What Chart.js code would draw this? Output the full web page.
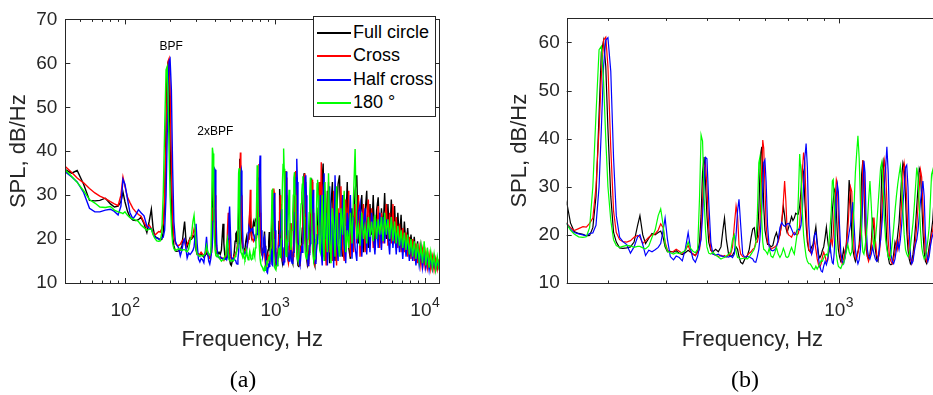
<!DOCTYPE html>
<html><head><meta charset="utf-8">
<script src="https://cdn.jsdelivr.net/npm/chart.js@4.4.1/dist/chart.umd.min.js"></script>
<style>
html,body{margin:0;padding:0;background:#fff;overflow:hidden;}
#wrap{position:relative;width:933px;height:395px;overflow:hidden;background:#fff;}
.pane{position:absolute;top:0;}
.cap{position:absolute;top:366px;font-family:"Liberation Serif","DejaVu Serif",serif;font-size:24px;line-height:26px;color:#000;transform:translateX(-50%);white-space:nowrap;}
#legend{position:absolute;left:313px;top:16px;width:121px;height:99px;border:1px solid #262626;background:#fff;font-family:"Liberation Sans",Arial,sans-serif;font-size:18px;color:#000;}
.li{position:absolute;left:0;width:121px;height:23px;line-height:23px;}
.sw{position:absolute;left:3px;top:11px;width:34px;height:2px;}
.tx{position:absolute;left:39px;top:0;white-space:nowrap;}
</style></head>
<body>
<div id="wrap">
  <div class="pane" style="left:0;width:470px;height:395px"><canvas id="chartA" width="470" height="395"></canvas></div>
  <div class="pane" style="left:470px;width:480px;height:395px"><canvas id="chartB" width="480" height="395"></canvas></div>
  <div id="legend"></div>
  <div class="cap" style="left:243px">(a)</div>
  <div class="cap" style="left:745px">(b)</div>
</div>
<script>
// ---------------- data ----------------
const freqHz = [
  40,44,48,53,58,63,68,74,80,85,
  90,94,97,100,104,108,113,118,123,128,
  134,140,145,
  150,154,158,163,168,172,176,180,184,188,
  191,194,197,200,204,208,212,217,222,228,
  234,240,246,250,255,260,266,272,278,284,
  289,294,298,303,309,316,322,329,336,343,
  350,356,362,368,374,379,383,387,391,395,
  399,404,410,416,424,432,440,446,451,457,
  464,471,477,483,489,494,499,505,512,520,
  528,536,543,549,555,561,567,573,577,581,
  585,589,593,598,603,609,616,624,632,640,
  648,656,664,672,680,686,692,698,705,712,
  720,727,734,741,748,755,762,769,776,783,
  790,797,804,812,820,828,836,845,853,861,
  869,877,885,893,901,910,918,926,934,942,
  950,957,963,970,977,984,991,998,1006,1015,
  1025,1035,1045,1055,1066,1076,1086,1096,1104,1114,
  1124,1134,1144,1154,1164,1174,1184,1193,1202,1212,
  1222,1232,1244,1256,1268,1280,1292,1304,1316,1328,
  1340,1352,1364,1376,1388,1400,1413,1426,1440,1454,
  1468,1482,1496,1510,1524,1538,1552,1566,1580,1594,
  1608,1622,1636,1650,1665,1680,1695,1710,1725,1740,
  1755,1770,1785,1800,1816,1832,1848,1864,1880,1896,
  1912,1928,1944,1960,1976,1992,
  2010,2040,2070,2100,2130,2160,2200,2240,2280,2320,
  2370,2420,2470,2520,2580,2640,2700,2760,2830,2900,
  2970,3040,3110,3190,3270,3350,3430,3520,3610,3700,
  3800,3900,4000,4100,4200,4310,4420,4530,4650,4770,
  4890,5010,5140,5270,5400,5540,5680,5830,5980,6130,
  6290,6450,6610,6780,6950,7130,7310,7500,7690,7890,
  8090,8300,8510,8730,8950,9180,9420,9660,9910,10160,
  10420,10690,10960,11240,11530,11820,12120,12430,12750
];
const splFullCircle = [
  35.8,35.0,35.6,32.5,28.8,28.7,28.8,29.3,28.0,27.3,
  27.5,28.5,30.7,28.5,26.3,25.0,24.3,24.2,24.4,25.0,
  23.5,21.5,24.0,
  26.8,22.5,20.7,20.3,20.1,19.8,19.9,21.5,28.0,45.0,
  58.0,60.4,55.0,42.0,28.0,20.5,18.5,17.3,17.2,17.3,
  17.5,18.5,22.0,24.0,20.0,18.2,19.3,20.3,20.0,20.5,
  20.8,19.5,17.5,16.5,16.6,16.4,16.7,16.2,15.9,16.3,
  16.8,16.4,16.0,15.7,16.6,18.5,24.0,33.0,36.2,31.0,
  24.0,18.5,16.8,16.5,17.0,16.5,17.5,21.0,23.5,19.0,
  16.0,15.5,15.8,16.5,17.5,17.0,15.5,14.3,14.0,15.0,
  15.5,17.0,19.5,21.2,21.5,19.0,19.5,25.0,32.0,37.0,
  38.3,33.0,26.0,21.0,19.5,18.0,18.0,17.5,17.8,19.5,
  20.5,19.0,20.0,22.5,25.9,24.0,21.5,20.5,21.5,22.5,
  23.8,23.0,23.5,24.5,24.3,24.3,26.0,29.0,34.0,33.0,
  27.0,22.0,18.5,16.8,16.5,17.5,18.0,20.0,21.7,18.5,
  16.0,15.2,15.8,16.8,17.5,19.5,21.6,19.0,17.0,16.5,
  20.0,25.0,27.1,29.5,29.0,25.0,20.0,17.0,15.5,14.5,
  15.0,17.0,15.5,18.0,24.0,31.4,28.0,20.0,17.0,15.5,
  14.5,15.5,16.5,18.0,22.0,32.6,35.5,30.0,22.0,17.0,
  15.5,15.0,16.0,18.5,23.6,21.0,17.0,15.0,14.5,17.0,
  24.0,33.5,35.2,31.0,24.0,18.0,15.5,14.0,13.8,14.0,
  16.0,18.5,17.5,20.0,22.5,27.0,32.0,35.0,34.0,28.0,
  21.0,17.0,15.0,14.0,14.5,16.0,18.5,22.0,26.0,30.0,
  33.8,33.0,27.0,21.0,16.5,14.5,14.0,15.5,17.5,19.0,
  21.0,23.0,27.0,31.0,33.0,30.0,
  18,26,34,37.2,24,15,19,31,22,14.5,
  28,33,18,15,25,32.5,34.5,20,16,30,
  23,33,18,15.5,27,22,31,34.5,19,25,
  30,17,26,31,18,28,21,30,17.5,26.5,
  29.5,19,27,22,30.5,20,28,19.5,29,21,
  27.5,18,26,20,25.5,17.5,24,18,22.5,16.5,
  21,17,20.5,15.5,19.5,15,18.5,14.5,17.5,14,
  17,14,16.5,13.5,16,13.5,15.5,14,15
];
const splCross = [
  36.5,35.2,33.9,32.8,31.5,30.5,29.8,29.2,28.5,28.0,
  27.6,30.0,34.1,32.0,29.5,28.3,27.0,26.2,25.6,25.2,
  23.8,22.6,23.2,
  22.4,21.5,20.9,21.3,21.7,21.6,22.4,23.5,30.0,42.0,
  53.0,60.5,61.1,55.0,38.0,25.0,20.5,19.0,18.6,18.5,
  18.8,19.5,19.9,19.5,18.2,18.8,19.5,20.0,20.2,21.0,
  22.3,21.5,18.5,16.8,16.4,16.6,17.0,16.6,16.2,16.8,
  17.8,16.5,16.0,15.7,16.4,17.0,20.0,27.0,34.0,35.0,
  30.0,21.5,17.0,16.0,15.8,15.5,15.8,15.5,15.7,15.4,
  15.8,16.0,17.5,22.0,26.0,24.0,18.0,16.0,15.5,15.3,
  15.7,16.2,16.5,17.0,17.2,18.5,18.5,20.0,22.0,27.0,
  34.0,39.7,38.0,30.0,22.0,18.5,17.8,17.0,17.3,17.5,
  17.8,18.5,20.0,22.5,27.0,31.2,27.0,21.0,20.0,19.8,
  19.5,20.2,20.5,20.2,20.0,20.3,22.0,27.0,33.0,37.1,
  35.0,26.0,20.0,17.0,16.5,16.0,17.5,18.8,17.0,15.0,
  13.8,13.3,14.0,15.5,16.4,15.5,14.5,14.7,16.5,18.5,
  19.0,18.0,20.0,25.0,28.0,31.5,30.6,24.0,18.0,15.0,
  14.0,15.0,16.5,18.0,21.0,26.0,30.0,29.0,22.0,17.0,
  15.0,15.0,16.2,17.5,19.0,24.0,35.5,34.0,26.0,18.5,
  15.5,14.5,15.5,17.0,21.5,23.6,19.0,16.0,15.0,16.0,
  19.0,25.0,30.0,35.5,34.0,27.0,19.0,15.5,14.5,14.0,
  15.0,16.5,18.5,17.0,19.0,22.0,27.0,32.0,34.9,33.0,
  27.0,20.0,16.5,15.0,14.0,15.0,17.0,19.0,22.0,26.0,
  30.0,33.5,32.0,26.0,20.0,16.0,14.5,15.0,16.5,18.0,
  20.0,21.0,23.0,27.0,31.0,33.0,
  22,37.5,25,16,30,20,14,24,33,17,
  21,15,31,22,14,27,20,32,18,15,
  29,20,31,16,24,17,28,19,30,16,
  22,28,17,24,29,19,27,18,25,20,
  27.5,18,26,19,24,28,18.5,26,19,28,
  19,25,18,23.5,17,22.5,17,21.5,16,20.5,
  15.5,20,15,19,14.5,18,14,17.5,14,17,
  13.5,16.5,13.2,16,13,15.5,13,15,14
];
const splHalfCross = [
  35.3,34.2,33.0,30.6,27.0,26.2,26.2,26.6,26.8,26.3,
  25.5,27.5,33.6,32.5,29.1,26.0,24.6,25.5,26.7,26.0,
  25.3,23.0,22.5,
  22.3,21.2,20.5,20.2,20.0,19.8,20.3,20.4,22.0,30.0,
  42.0,55.0,60.5,61.0,54.0,36.0,24.0,19.5,18.6,18.0,
  16.2,17.5,19.6,20.0,18.0,15.7,16.8,16.5,16.9,17.4,
  18.2,21.0,23.5,19.0,15.5,14.8,15.6,15.3,14.6,17.0,
  20.5,17.0,15.0,14.3,15.6,17.5,19.0,24.0,30.0,36.1,
  35.8,27.0,18.5,16.0,15.8,16.0,15.6,15.6,15.4,15.5,
  15.4,15.6,15.3,16.0,20.0,25.0,27.4,22.0,16.0,15.3,
  15.6,15.4,15.2,15.0,14.4,14.3,15.5,17.0,19.0,22.0,
  25.0,30.0,35.0,35.6,31.0,22.0,17.5,16.8,16.7,16.9,
  17.5,19.0,21.5,22.6,22.0,21.8,22.0,22.3,22.4,22.0,
  21.2,20.5,20.0,20.2,21.0,21.2,21.0,22.0,25.0,30.0,
  36.0,39.0,34.0,22.0,17.5,16.0,17.0,20.0,20.5,18.0,
  15.0,13.5,12.5,12.3,13.5,14.5,13.8,14.8,16.5,17.8,
  15.5,14.2,14.0,16.5,22.0,28.0,30.5,29.0,22.0,16.5,
  14.5,14.0,15.5,17.0,18.5,20.5,22.0,25.0,26.8,22.0,
  17.0,15.0,14.0,14.8,17.0,21.0,28.0,35.4,33.0,22.0,
  17.0,15.5,15.0,16.0,17.5,16.0,15.0,14.5,15.0,17.0,
  19.0,22.0,26.0,30.0,34.0,38.3,33.0,22.0,16.0,14.5,
  14.0,15.0,17.0,18.5,17.0,19.0,22.0,26.0,30.0,34.0,
  34.5,30.0,21.0,16.0,14.0,14.5,16.5,18.0,19.0,21.0,
  24.0,27.0,29.0,31.2,28.0,20.0,16.0,14.5,15.5,17.5,
  19.0,20.0,21.0,22.0,24.0,27.0,
  30,17,14,28,35,20,26,14,20,32,
  17,24,13.5,34.5,20,15,26,16,30,19,
  14.5,26,21,30,15.5,25,18,15,26,28,
  16,23,27,16.5,24,17,26,21,16.5,24,
  18,26,17.5,25,19,24.5,21,16.5,25,18,
  23,16.5,22.5,17,21.5,15.5,21,16,20,15,
  19.5,15,19,14,18,14,17.5,13.5,17,13.5,
  16.5,13,16,13.2,15.5,13,15,13.5,14.5
];
const spl180 = [
  35.7,34.3,32.9,31.0,29.0,28.2,27.3,27.2,27.4,26.6,
  26.2,26.0,25.8,26.2,25.4,24.9,24.6,24.3,24.0,23.2,
  22.6,22.0,22.2,
  22.3,21.0,20.2,19.6,19.5,19.6,21.5,30.0,45.0,58.5,
  59.2,52.0,40.0,30.0,23.0,19.0,17.8,17.4,17.6,17.8,
  17.7,17.4,17.6,17.6,17.3,17.1,17.7,19.5,21.0,24.0,
  25.4,22.0,18.0,16.6,16.3,16.0,16.3,16.1,16.4,16.7,
  18.5,17.2,16.6,16.3,17.0,28.0,40.8,39.5,28.0,21.0,
  17.5,16.2,16.0,16.4,15.8,15.4,15.0,15.2,15.3,15.6,
  16.0,16.5,19.0,20.0,16.5,15.3,15.2,15.0,15.1,15.2,
  15.0,15.4,16.0,16.5,17.0,18.0,24.0,35.0,36.1,30.0,
  23.0,18.5,17.0,16.8,16.5,16.0,17.2,15.6,15.3,16.2,
  17.4,16.0,15.3,16.0,17.2,16.5,15.5,15.3,15.5,16.5,
  17.4,16.6,16.0,18.0,20.0,28.0,36.8,33.0,25.0,20.0,
  17.5,15.5,14.5,14.0,14.0,13.5,13.0,12.8,13.5,12.9,
  13.4,14.0,14.7,14.5,15.2,15.8,16.0,15.6,18.0,21.5,
  25.0,31.2,31.5,27.0,20.0,16.0,14.5,13.5,13.2,13.0,
  13.8,14.0,15.2,16.5,18.0,16.5,15.8,16.5,20.0,26.5,
  33.0,37.0,40.6,36.0,27.0,20.0,16.5,16.0,17.5,19.5,
  22.5,27.0,31.2,26.0,20.0,17.5,19.0,22.0,26.0,30.0,
  34.0,35.2,30.0,23.0,19.0,17.0,15.5,15.0,16.0,18.5,
  21.5,25.0,28.0,30.5,32.5,34.3,31.0,25.0,20.0,17.0,
  16.0,15.5,16.0,17.5,20.0,22.5,26.0,30.0,34.0,32.0,
  26.0,21.0,17.5,16.0,15.0,15.5,17.0,19.0,21.5,27.0,
  32.6,33.5,30.0,24.0,20.0,17.5,
  17,24,30,19,15,33,21,17,35,20,
  14.5,27,23,16,32,19,16,27,21,31,
  17,22,18,26,19,30,40.5,20,23,18.5,
  26,20,23,19,25,20.5,24,19.5,25.5,20,
  24.5,21,25,19.5,26,21,24.5,20,25,19.5,
  24,19,23,18.5,22,18,21.5,17.5,21,16.5,
  20,16,19.5,15.5,19,15,18.5,14.5,19.5,14,
  18,13.5,17,13.5,16.5,13,16,13.5,15
];
const seriesNames = ['Full circle', 'Cross', 'Half cross', '180 \u00B0'];
const seriesColors = ['#000000', '#ff0000', '#0000ff', '#00ff00'];
const yTicksA = [10, 20, 30, 40, 50, 60, 70];
const yTicksB = [10, 20, 30, 40, 50, 60];
const xDecades = [100, 1000, 10000];
const annoText = ['BPF', '2xBPF'];
const annoFreq = [203, 401];
const annoSpl = [63.9, 44.4];

// ---------------- chart ----------------
const FONT = '"Liberation Sans", Arial, Helvetica, sans-serif';
const AXC = '#262626';
Chart.defaults.font.family = FONT;
Chart.defaults.color = AXC;

function makeDatasets(lw) {
  const all = [splFullCircle, splCross, splHalfCross, spl180];
  return all.map((ys, i) => ({
    label: seriesNames[i],
    data: freqHz.map((f, j) => ({ x: f, y: ys[j] })),
    borderColor: seriesColors[i],
    backgroundColor: seriesColors[i],
    borderWidth: lw,
    pointRadius: 0,
    tension: 0,
    fill: false,
    order: 3 - i
  }));
}

const framePlugin = {
  id: 'matlabFrame',
  afterDraw(chart) {
    const { ctx, chartArea: a, scales: { x, y } } = chart;
    ctx.save();
    ctx.strokeStyle = AXC;
    ctx.lineWidth = 1;
    ctx.beginPath();
    const lo = Math.floor(Math.log10(x.min)), hi = Math.ceil(Math.log10(x.max));
    for (let d = lo; d <= hi; d++) {
      for (let m = 1; m < 10; m++) {
        const v = m * Math.pow(10, d);
        if (v < x.min || v > x.max) continue;
        const px = Math.round(x.getPixelForValue(v)) + 0.5;
        const L = m === 1 ? 5 : 2.5;
        ctx.moveTo(px, a.bottom); ctx.lineTo(px, a.bottom - L);
        ctx.moveTo(px, a.top); ctx.lineTo(px, a.top + L);
      }
    }
    y.ticks.forEach(t => {
      const py = Math.round(y.getPixelForValue(t.value)) + 0.5;
      ctx.moveTo(a.left, py); ctx.lineTo(a.left + 5, py);
      ctx.moveTo(a.right, py); ctx.lineTo(a.right - 5, py);
    });
    ctx.stroke();
    ctx.strokeRect(Math.round(a.left) + 0.5, Math.round(a.top) + 0.5,
                   Math.round(a.right - a.left), Math.round(a.bottom - a.top));
    ctx.fillStyle = AXC;
    ctx.textAlign = 'left';
    ctx.textBaseline = 'alphabetic';
    x.ticks.forEach(t => {
      const v = t.value;
      const e = String(Math.round(Math.log10(v)));
      ctx.font = '19px ' + FONT;
      const w1 = ctx.measureText('10').width;
      ctx.font = '14px ' + FONT;
      const w2 = ctx.measureText(e).width;
      const px = x.getPixelForValue(v);
      const x0 = px - (w1 + w2) / 2;
      ctx.font = '19px ' + FONT;
      ctx.fillText('10', x0, a.bottom + 32.5);
      ctx.font = '14px ' + FONT;
      ctx.fillText(e, x0 + w1 + 0.5, a.bottom + 24);
    });
    ctx.restore();
  }
};

const annoPlugin = {
  id: 'bpfLabels',
  afterDatasetsDraw(chart, args, opts) {
    if (!opts || !opts.show) return;
    const { ctx, scales: { x, y } } = chart;
    ctx.save();
    ctx.fillStyle = '#000';
    ctx.font = '12px ' + FONT;
    ctx.textAlign = 'center';
    ctx.textBaseline = 'middle';
    annoText.forEach((t, i) => ctx.fillText(t, x.getPixelForValue(annoFreq[i]), y.getPixelForValue(annoSpl[i])));
    ctx.restore();
  }
};

function makeChart(id, cfg) {
  return new Chart(document.getElementById(id), {
    type: 'line',
    data: { datasets: makeDatasets(cfg.lw) },
    plugins: [framePlugin, annoPlugin],
    options: {
      responsive: false,
      animation: false,
      events: [],
      layout: { padding: { left: 0, right: cfg.padRight, top: 16, bottom: 0 } },
      plugins: { legend: { display: false }, tooltip: { enabled: false }, bpfLabels: { show: cfg.anno } },
      scales: {
        x: {
          type: 'logarithmic', min: cfg.xmin, max: cfg.xmax,
          grid: { display: false, drawTicks: false }, border: { display: false },
          ticks: { display: false },
          afterBuildTicks: s => { s.ticks = xDecades.filter(v => v >= cfg.xmin && v <= cfg.xmax).map(v => ({ value: v })); },
          title: { display: true, text: 'Frequency, Hz', font: { size: 22 }, color: AXC, padding: { top: 0, bottom: 41.8 } },
          afterFit: s => { s.height = 112; }
        },
        y: {
          type: 'linear', min: cfg.ymin, max: cfg.ymax,
          grid: { display: false, drawTicks: false }, border: { display: false },
          ticks: { padding: cfg.tickPad, font: { size: 19 }, color: AXC },
          afterBuildTicks: s => { s.ticks = cfg.yTicks.map(v => ({ value: v })); },
          title: { display: true, text: 'SPL, dB/Hz', font: { size: 22 }, color: AXC, padding: { top: cfg.titlePad, bottom: 0 } },
          afterFit: s => { s.width = cfg.yWidth; }
        }
      }
    }
  });
}

makeChart('chartA', { xmin: 40, xmax: 12500, ymin: 10, ymax: 70, yTicks: yTicksA, padRight: 30.7, yWidth: 65.3, tickPad: 8, titlePad: 6, anno: true, lw: 1.4 });
makeChart('chartB', { xmin: 150, xmax: 2000, ymin: 10, ymax: 65, yTicks: yTicksB, padRight: 12, yWidth: 96.7, tickPad: 7, titlePad: 36.8, anno: false, lw: 1.2 });

// legend
const lg = document.getElementById('legend');
seriesNames.forEach((n, i) => {
  const row = document.createElement('div');
  row.className = 'li';
  row.style.top = [4, 27, 51, 74][i] + 'px';
  const sw = document.createElement('div');
  sw.className = 'sw';
  sw.style.background = seriesColors[i];
  const tx = document.createElement('span');
  tx.className = 'tx';
  tx.textContent = n;
  row.appendChild(sw); row.appendChild(tx);
  lg.appendChild(row);
});
</script>
</body></html>
